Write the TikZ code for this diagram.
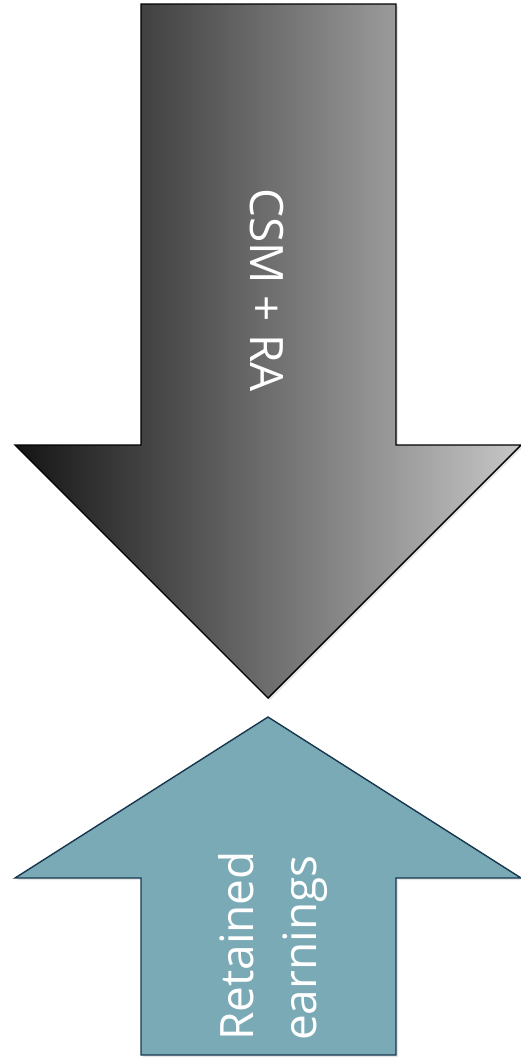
\documentclass[tikz,border=0pt]{standalone}
\usepackage{fontspec}
\setmainfont{Open Sans}
\usetikzlibrary{positioning,shadows}
\definecolor{tealfill}{HTML}{7BAAB7}
\definecolor{tealline}{HTML}{17374F}

\begin{document}
\begin{tikzpicture}[
    x=1pt, y=-1pt,
    font=\fontsize{46}{63}\selectfont,
    flowdown/.style={draw=black, line width=1.4pt, line join=miter,
      left color=black!92, middle color=black!44, right color=black!22,
      drop shadow={opacity=0.2, shadow xshift=2pt, shadow yshift=-2pt}},
    flowup/.style={draw=tealline, line width=1.4pt, line join=miter, fill=tealfill,
      drop shadow={opacity=0.2, shadow xshift=2pt, shadow yshift=-2pt}},
    lbl/.style={text=white, align=left, inner sep=0pt},
  ]
    \useasboundingbox (0,0) rectangle (520,1058);
    % down arrow
    \path[flowdown] (141,4) -- (396,4) -- (396,445) -- (521,445)
      -- (268,698) -- (15,445) -- (141,445) -- cycle;
    % up arrow
    \path[flowup] (268,717) -- (521,878) -- (396,878) -- (396,1055)
      -- (141,1055) -- (141,878) -- (15,878) -- cycle;
    \node[lbl, rotate=-90] (csm) at (267,290) {CSM + RA};
    \node[lbl, rotate=90] (earn) at (273,946) {Retained\\earnings};
  \end{tikzpicture}
\end{document}
